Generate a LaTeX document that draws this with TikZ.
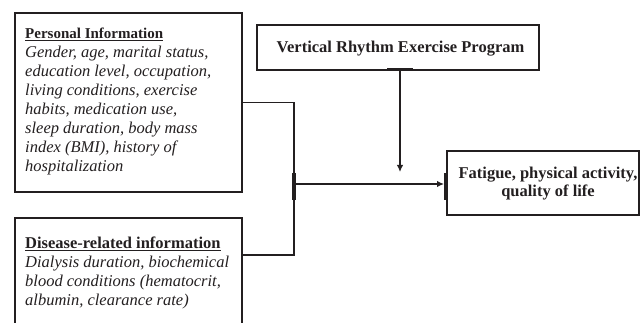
\documentclass[tikz,border=0pt]{standalone}
\usepackage{fontspec}
\setmainfont{Liberation Serif}
\usetikzlibrary{arrows.meta}
\definecolor{ink}{HTML}{231F20}
\tikzset{
  box/.style={draw=ink, line width=2pt, rectangle, inner sep=0pt, anchor=north west},
  txt/.style={inner sep=0pt, anchor=base west, text=ink},
  conn/.style={draw=ink, line width=1.7pt},
  arr/.style={conn, -{Latex[length=7pt,width=6.5pt]}},
  tick/.style={draw=ink, line width=3.4pt}
}
\newcommand{\bigfont}{\fontsize{16.5}{19}\selectfont}
\newcommand{\titlefont}{\fontsize{15}{19}\selectfont}
\begin{document}
\begin{tikzpicture}[x=1pt,y=-1pt]
\useasboundingbox (0,0) rectangle (640,323);
\clip (0,0) rectangle (640,323);
% boxes
\node[box, minimum width=227pt, minimum height=179pt] (per) at (14,12) {};
\node[box, minimum width=227pt, minimum height=140pt] (dis) at (14,217) {};
\node[box, minimum width=282pt, minimum height=45pt] (vr) at (256,24) {};
\node[box, minimum width=192pt, minimum height=64pt] (fat) at (446,150) {};
% texts
\node[txt] (pert) at (25,39) {\parbox[t]{215pt}{\raggedright
  {\titlefont\bfseries\underline{Personal Information}}\\[-0.5pt]
  \bigfont\itshape Gender, age, marital status,\\
  education level, occupation,\\
  living conditions, exercise\\
  habits, medication use,\\
  sleep duration, body mass\\
  index (BMI), history of\\
  hospitalization}};
\node[txt] (dist) at (25,249) {\parbox[t]{215pt}{\raggedright\bigfont
  {\bfseries\underline{Disease-related information}}\\
  \itshape Dialysis duration, biochemical\\
  blood conditions (hematocrit,\\
  albumin, clearance rate)}};
\node[inner sep=0pt, anchor=base, text=ink, font=\bigfont\bfseries] (vrt) at (400.5,53) {Vertical Rhythm Exercise Program};
\node[inner sep=0pt, anchor=base, text=ink] (fatt) at (548,179) {\parbox[t]{200pt}{\centering\bigfont\bfseries
  Fatigue, physical activity,\\[-1pt] quality of life}};
% connectors
\coordinate (j) at (294,184);
\coordinate (dc) at (243,255);
\draw[conn] (per.east) -| (j) |- (dc);
\draw[tick] ([yshift=11pt]j) -- ([yshift=-16pt]j);
\draw[arr] (j) -- ([xshift=-2pt]fat.west |- j);
\draw[tick] (fat.west |- 0,173) -- (fat.west |- 0,200);
\coordinate (va) at (400,69);
\coordinate (vb) at (400,172);
\draw[tick, line width=2.4pt] ([xshift=-13pt]va) -- ([xshift=13pt]va);
\draw[arr] (va) -- (vb);
\end{tikzpicture}
\end{document}
